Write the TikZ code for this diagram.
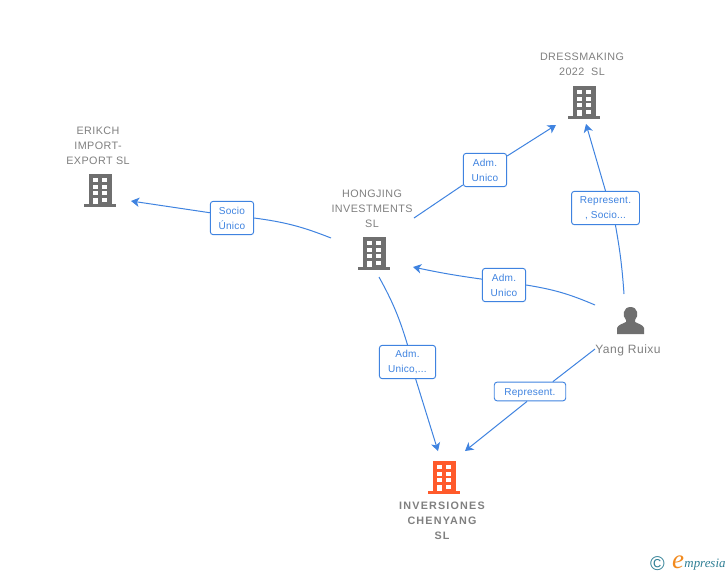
\documentclass[tikz,border=0pt]{standalone}
\usepackage{fontspec}
\setmainfont{Liberation Sans}
\newfontfamily\spacedfont[LetterSpace=4]{Liberation Sans}
\newfontfamily\widefont[LetterSpace=11]{Liberation Sans}
\newfontfamily\boxfont[LetterSpace=2]{Liberation Sans}
\newfontfamily\logofont{Liberation Serif}
\usetikzlibrary{arrows.meta}
\definecolor{linkblue}{HTML}{3F83E0}
\definecolor{namegray}{HTML}{808080}
\definecolor{iconfill}{HTML}{6F6F6F}
\definecolor{mainorange}{HTML}{FF5A2B}
\definecolor{logoteal}{HTML}{2F7F95}
\definecolor{logoorange}{HTML}{F28A1E}
\tikzset{
    orgname/.style={align=center,text=namegray,font=\fontsize{9.2}{12.6}\selectfont\spacedfont},
    linkbox/.style={draw=linkblue,fill=white,rounded corners=2.5pt,line width=0.8pt,align=center,
        text=linkblue,font=\fontsize{8.6}{12.7}\selectfont\boxfont,inner sep=0pt,
        execute at begin node=\rule{0pt}{8.5pt}},
    link/.style={draw=linkblue,line width=0.85pt},
    tolink/.style={link,-{Stealth[length=7pt,width=8pt,inset=2pt]}},
    pics/tower/.style={code={
        \fill[#1] (-11.5,-2)rectangle(11.5,-33);
        \fill[#1] (-16,0)rectangle(16,-3);
        \foreach \r in {0,1,2,3}{
            \fill[white] (-7.5,-29+6.7*\r)rectangle(-2.5,-25+6.7*\r);
            \fill[white] (2,-29+6.7*\r)rectangle(7,-25+6.7*\r);
        }
        \fill[white] (-7.5,-9)rectangle(-2.5,-3);
    }}
}
\begin{document}
\begin{tikzpicture}[x=0.03cm,y=-0.03cm]
    \useasboundingbox (0,0) rectangle (728,575);
    \fill[white] (0,0) rectangle (728,575);
    % company names
    \node (erikch) at (98,146)[orgname]{ERIKCH\\IMPORT-\\EXPORT SL};
    \node (hongjing) at (372,209)[orgname]{HONGJING\\INVESTMENTS\\SL};
    \node (dress) at (582,64)[orgname]{DRESSMAKING\\2022\ \ SL};
    \node (inversiones) at (442,521)[orgname,font=\fontsize{9.2}{12.9}\selectfont\widefont\bfseries]{INVERSIONES\\CHENYANG\\SL};
    \node (yang) at (628,350)[text=namegray,font=\fontsize{10.3}{12}\selectfont\spacedfont]{Yang Ruixu};
    % buildings
    \foreach \x/\y/\c in {100/207/iconfill,374/270/iconfill,584/119/iconfill,444/494/mainorange}{
        \pic at (\x,\y){tower={\c}};
    }
    % person
    \fill[iconfill] (617,334)--(617,328) .. controls (618,325) and (622,324) .. (626,322)
        -- (626,320) .. controls (622,316) and (623,307) .. (630.5,307)
        .. controls (638,307) and (639,316) .. (635,320) -- (635,322)
        .. controls (639,324) and (643,325) .. (644,328) -- (644,334) -- cycle;
    % relation boxes
    \node (socio) at (232,218)[linkbox,minimum width=37pt,minimum height=28.5pt]{Socio\\Único};
    \node (admtop) at (485,170)[linkbox,minimum width=37pt,minimum height=28.5pt]{Adm.\\Unico};
    \node (repsocio) at (605.5,208)[linkbox,minimum width=58pt,minimum height=28.5pt]{Represent.\\, Socio...};
    \node (admmid) at (504,285)[linkbox,minimum width=37pt,minimum height=28.5pt]{Adm.\\Unico};
    \node (admlow) at (407.5,362)[linkbox,minimum width=48pt,minimum height=28.5pt]{Adm.\\Unico,...};
    \node (reprep) at (530,391.5)[linkbox,minimum width=61pt,minimum height=16pt]{Represent.};
    % free ends of the connectors
    \coordinate (a1) at (331,238);
    \coordinate (a2) at (131,201);
    \coordinate (b1) at (414,218);
    \coordinate (b2) at (556,125);
    \coordinate (c1) at (624,294);
    \coordinate (c2) at (586,124);
    \coordinate (d1) at (595,305);
    \coordinate (d2) at (413,267);
    \coordinate (e1) at (379,277);
    \coordinate (e2) at (438,451);
    \coordinate (f1) at (595,349);
    \coordinate (f2) at (465,451);
    % connectors
    \draw[link] (a1) to [bend right=7] (socio.east);
    \draw[tolink] ([yshift=4.5pt]socio.west) to (a2);
    \draw[link] (b1) -- (admtop);
    \draw[tolink] (admtop) -- (b2);
    \draw[link] (c1) to [bend right=3] ([xshift=8.5pt]repsocio.south);
    \draw[tolink] (repsocio.north) -- (c2);
    \draw[link] (d1) to [bend right=7] (admmid.east);
    \draw[tolink] ([yshift=5pt]admmid.west) to [bend left=2] (d2);
    \draw[link] (e1) to [bend left=6] (admlow.north);
    \draw[tolink] ([xshift=7pt]admlow.south) -- (e2);
    \draw[link] (f1) -- ([xshift=19.5pt]reprep.north);
    \draw[tolink] ([xshift=-2.5pt]reprep.south) -- (f2);
    % logo
    \node (copysign) at (657.5,563.5)[text=logoteal,font=\fontsize{17}{17}\selectfont]{©};
    \node (logoe) at (678,562)[text=logoorange,font=\fontsize{23}{23}\selectfont\logofont\itshape]{e};
    \node (logotext) at (705,565)[text=logoteal,font=\fontsize{11}{11}\selectfont\logofont\itshape]{mpresia};
\end{tikzpicture}
\end{document}
